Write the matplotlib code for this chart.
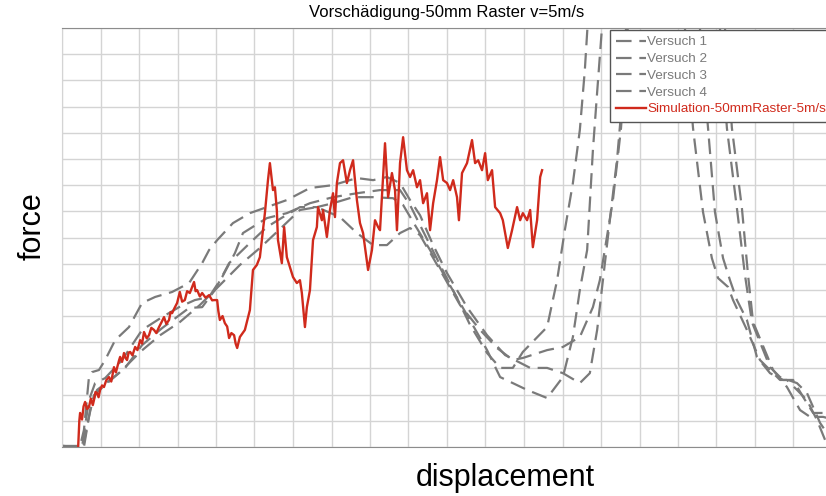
import matplotlib
matplotlib.use("Agg")
import matplotlib.pyplot as plt

plt.rcParams['font.family'] = ['Liberation Sans', 'DejaVu Sans']

# simulation (red)
sim_x = [4.2, 4.5, 4.7, 5.2, 5.6, 6.0, 6.5, 7.0, 7.5, 8.0, 8.3, 8.7, 9.1, 9.5, 9.9, 10.4, 10.9,
         11.5, 12.2, 12.8, 13.5, 14.0, 14.3, 14.8, 15.1, 15.6, 16.1, 16.5, 16.9, 17.3, 17.7,
         18.3, 19.0, 19.6, 20.3, 20.8, 21.3, 22.0, 22.6, 23.2, 23.9, 24.5, 25.2, 25.8, 26.5,
         27.1, 27.8, 28.2, 28.6, 29.2, 29.9, 30.6, 31.2, 31.9, 32.5, 33.2, 34.3, 34.7, 35.1,
         35.8, 36.4, 37.3, 38.2, 39.0, 39.5, 40.3, 40.6, 41.0, 41.7, 42.3, 42.9, 43.4, 44.0,
         44.7, 45.1, 45.5, 46.2,
         47.5, 48.8, 49.6, 50.6, 51.4, 51.9, 52.7, 53.5, 54.0, 54.5, 54.8, 55.3, 55.8, 56.1,
         57.1, 57.7, 58.4, 59.2, 60.0, 61.0, 61.8, 62.3, 63.1, 63.6, 64.4, 65.2, 66.2, 66.5,
         67.5, 67.8, 68.8, 69.6, 70.4, 70.9, 71.4, 72.2, 73.0, 74.0, 74.8, 75.6, 76.6, 77.4,
         78.2, 79.5, 80.5, 81.3, 82.1,
         82.6, 83.9, 84.7, 85.7, 86.5, 87.0, 87.8, 88.6, 89.6, 90.4, 91.2, 92.2, 93.0, 93.8,
         94.8, 95.6, 96.4, 97.4, 98.2, 99.0, 100.0, 100.8, 101.6, 102.6, 103.1, 103.9, 105.2,
         106.5, 107.3, 108.1, 109.1, 109.9, 110.6, 111.7, 112.5, 113.8, 114.5, 115.8, 116.9,
         118.2, 119.0, 119.7, 120.8, 121.6, 122.3, 123.4, 124.2, 124.7]
sim_y = [0.0, 1.0, 1.30, 1.05, 1.55, 1.72, 1.45, 1.53, 1.85, 1.60, 1.79, 2.10, 2.06, 1.90, 2.18,
         2.35, 2.29, 2.55, 2.67, 2.50, 3.05, 2.85, 3.02, 3.30, 3.44, 3.25, 3.59, 3.40, 3.32,
         3.60, 3.63, 3.50, 3.82, 3.70, 4.08, 3.95, 4.39, 4.15, 4.27, 4.55, 4.47, 4.35, 4.58,
         4.75, 4.96, 4.70, 4.85, 5.15, 5.11, 5.30, 5.50, 5.92, 5.55, 5.61, 5.95, 5.88, 6.30,
         5.95, 5.99, 5.75, 5.88, 5.70, 5.80, 5.60, 5.61, 5.61, 5.20, 4.85, 5.00, 4.73, 4.60,
         4.16, 4.35, 4.27, 3.95, 3.78, 4.20,
         4.47, 5.23, 6.76, 6.95, 7.25, 7.90, 8.93, 10.19, 10.84, 10.19, 9.81, 9.92, 9.05, 7.90,
         7.02, 8.40, 7.25, 6.87, 6.49, 6.26, 6.37, 5.88, 4.58, 5.34, 5.99, 7.90, 8.40, 9.16,
         8.66, 9.05, 8.02, 9.05, 9.69, 8.78, 10.08, 10.84, 10.95, 10.08, 10.57, 10.95, 9.43,
         8.55, 8.17, 6.76, 7.52, 8.66, 8.40,
         8.28, 11.60, 9.54, 10.46, 9.81, 8.28, 10.84, 11.83, 10.57, 10.31, 10.57, 9.92, 10.19,
         9.31, 9.69, 8.28, 9.31, 10.19, 11.07, 10.19, 10.08, 9.81, 10.19, 9.54, 8.66, 10.46,
         10.84, 11.72, 10.84, 10.95, 10.57, 11.22, 10.19, 10.57, 9.16, 8.93, 8.66, 7.60, 8.28,
         9.16, 8.66, 8.93, 8.66, 9.05, 7.63, 8.66, 10.31, 10.57]

# tests (grey dashed)
v1_x = [0.0, 4.7, 5.7, 7.0, 7.8, 9.6, 11.2, 13.8, 17.4, 20.8, 24.2, 28.6, 33.0, 36.4, 38.2,
        40.3, 44.4, 48.8, 53.2, 58.4, 64.4, 70.4, 76.6, 80.8, 84.4, 87.8, 90.4, 93.0, 96.4,
        100.0, 105.2, 110.4, 115.1, 121.6, 126.0, 130.1, 134.5, 137.1, 139.0, 140.5, 142.3,
        144.2, 145.5, 146.5, 147.0, 158.4, 170.4, 170.9, 172.7, 175.3, 177.4, 179.2, 183.9,
        186.5, 190.9, 193.5, 196.9, 198.7, 200.8]
v1_y = [0.04, 0.04, 0.65, 2.67, 2.86, 2.94, 3.32, 4.08, 4.58, 5.50, 5.73, 5.92, 6.26, 7.02, 7.52,
        7.90, 8.55, 8.93, 9.16, 9.43, 9.89, 10.00, 10.27, 10.19, 10.31, 10.08, 9.43, 8.85, 7.71,
        6.64, 5.34, 4.27, 3.51, 3.02, 3.02, 2.82, 2.44, 2.82, 4.47, 6.37, 8.66,
        11.03, 13.24, 15.99, 17.06, 28.5, 17.06, 15.99, 12.18, 9.12, 6.56, 4.77, 3.05,
        2.67, 2.44, 2.06, 0.92, 0.53, 0.08]

v2_x = [0.0, 5.2, 7.0, 8.6, 11.2, 15.6, 20.8, 26.0, 30.4, 34.5, 38.2, 41.6, 44.9, 47.0, 53.2,
        58.4, 64.4, 70.4, 76.6, 82.6, 87.8, 90.4, 94.3, 98.2, 102.6, 106.0, 110.4, 113.8, 117.1,
        119.7, 126.0, 128.6, 130.6, 132.7, 134.5, 135.8, 136.6, 137.1, 149.1, 161.3, 161.8,
        163.9, 166.5, 168.8, 170.4, 173.0, 174.3, 177.9, 181.3, 183.9, 186.5, 188.3, 190.9,
        193.5, 196.1, 198.2, 200.8]
v2_y = [0.04, 0.0, 1.79, 2.44, 2.63, 3.32, 4.47, 4.96, 5.34, 5.61, 5.73, 6.49, 7.40, 8.17, 8.74,
        8.93, 9.31, 9.54, 9.69, 9.81, 9.81, 9.24, 8.09, 6.95, 5.69, 4.66, 3.59, 3.02, 3.02,
        3.63, 4.58, 6.37, 8.28, 10.08, 12.10, 14.39, 16.30, 17.06, 28.5, 17.06, 15.99,
        12.18, 8.97, 7.21, 6.45, 6.11, 5.61, 4.47, 3.32, 2.94, 2.56, 2.56, 2.18,
        1.79, 1.03, 0.27, -0.31]

v3_x = [0.0, 5.7, 7.3, 9.1, 12.5, 16.4, 20.8, 26.0, 33.0, 36.4, 39.7, 43.4, 48.8, 53.2, 57.4,
        61.8, 66.2, 70.4, 75.6, 80.8, 86.0, 88.6, 91.7, 95.6, 100.0, 105.2, 110.4, 113.8, 120.8,
        126.0, 130.1, 132.7, 134.5, 136.4, 137.9, 139.0, 140.3, 140.8, 153.0, 165.2, 165.7,
        167.8, 169.6, 171.7, 173.5, 175.3, 177.9, 180.5, 183.9, 187.3, 189.9, 192.5, 195.1,
        197.7, 200.8]
v3_y = [0.04, 0.0, 1.41, 2.18, 2.56, 3.02, 3.89, 4.54, 5.31, 5.34, 5.99, 7.02, 7.79, 8.40, 8.78,
        9.16, 9.16, 9.31, 9.54, 9.54, 9.50, 9.24, 8.47, 7.52, 6.37, 5.04, 3.70, 2.67, 2.18,
        1.87, 2.67, 4.20, 5.99, 7.52, 11.34, 13.55, 16.11, 17.06, 28.5, 17.06, 15.99,
        12.18, 8.97, 7.21, 6.37, 5.61, 4.85, 3.44, 2.82, 2.56, 2.56, 1.91, 1.30,
        1.30, 1.03]

v4_x = [0.0, 5.5, 6.8, 8.3, 11.2, 15.1, 20.3, 25.5, 30.6, 35.8, 41.0, 46.2, 51.4, 55.8, 61.8,
        66.2, 72.2, 76.6, 80.8, 84.4, 87.8, 90.4, 93.0, 98.2, 103.4, 108.6, 113.0, 117.1, 119.7,
        126.0, 130.1, 134.5, 137.9, 139.7, 143.1, 145.2, 147.0, 147.5, 159.5, 171.7, 172.2,
        174.0, 176.6, 178.2, 179.5, 184.7, 188.3, 191.7, 194.3, 197.7, 200.8]
v4_y = [0.04, 0.0, 1.03, 1.98, 2.37, 2.86, 3.63, 4.27, 4.77, 5.42, 6.18, 6.95, 7.60, 8.21, 9.05,
        9.16, 8.78, 8.17, 7.71, 7.71, 8.17, 8.36, 8.09, 6.76, 5.42, 4.47, 3.78, 3.32, 3.40,
        3.70, 3.82, 4.20, 5.34, 6.37, 9.43, 12.18, 16.11, 17.06, 28.5, 17.06, 15.99,
        12.18, 9.12, 6.56, 4.77, 2.94, 2.29, 1.41, 1.15, 1.15, 1.03]

labels = ['Versuch 1', 'Versuch 2', 'Versuch 3', 'Versuch 4', 'Simulation-50mmRaster-5m/s']

fig = plt.figure(figsize=(8.26, 4.96), dpi=100)
ax = fig.add_axes([62 / 826, 49 / 496, 770 / 826, 419 / 496])

grey = '#7a7a7a'
for xs, ys, lab in zip([v1_x, v2_x, v3_x, v4_x], [v1_y, v2_y, v3_y, v4_y], labels[:4]):
    ax.plot(xs, ys, color=grey, lw=1.6, dashes=(7, 3.5), label=lab)
ax.plot(sim_x, sim_y, color='#d02a1c', lw=1.7, label=labels[4])

ax.set_xlim(0, 200)
ax.set_ylim(0, 16)
ax.set_xticks(range(0, 201, 10))
ax.set_yticks(range(0, 17))
ax.tick_params(length=0, labelleft=False, labelbottom=False)
ax.grid(True, color='#d4d4d4', lw=1)
ax.set_axisbelow(True)
for s in ['left', 'right']:
    ax.spines[s].set_color('#d4d4d4')
for s in ['top', 'bottom']:
    ax.spines[s].set_color('#8c8c8c')

fig.text(447 / 826, 1 - 12 / 496, 'Vorschädigung-50mm Raster v=5m/s', ha='center', va='center',
         fontsize=12)
fig.text(505 / 826, 1 - 478 / 496, 'displacement', ha='center', va='center', fontsize=22)
fig.text(33 / 826, 1 - 226 / 496, 'force', ha='center', va='center', fontsize=22, rotation=90)

leg = ax.legend(loc='upper left', bbox_to_anchor=(610 / 826, 1 - 30 / 496),
                bbox_transform=fig.transFigure, fontsize=9.7, frameon=True, fancybox=False,
                framealpha=1, edgecolor='#555555', labelcolor='linecolor', handlelength=2.2,
                handletextpad=0.1, labelspacing=0.32, borderpad=0.45, borderaxespad=0)
leg.get_frame().set_linewidth(1)

fig.savefig('out.png', dpi=100)
